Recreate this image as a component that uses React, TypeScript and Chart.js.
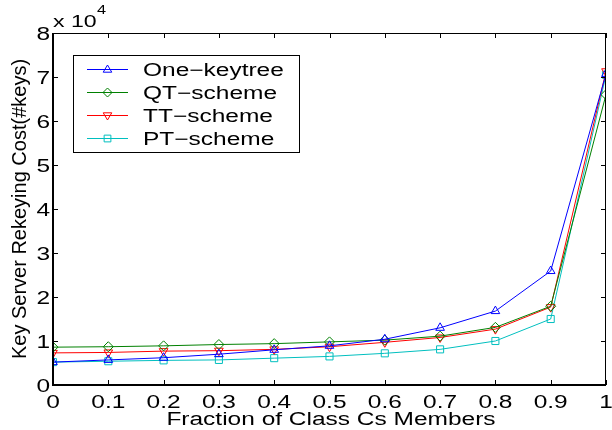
import React, { useEffect, useRef } from "react";
import { Chart, registerables } from "chart.js";

Chart.register(...registerables);

const fractions = [0, 0.1, 0.2, 0.3, 0.4, 0.5, 0.6, 0.7, 0.8, 0.9, 1.0];
const oneKeytree = [5200, 5700, 6200, 7000, 8000, 8900, 10400, 13000, 16800, 25900, 70700];
const qtScheme = [8600, 8700, 8900, 9200, 9400, 9800, 10200, 11100, 13100, 17900, 66000];
const ttScheme = [7300, 7400, 7700, 7800, 8100, 8700, 9700, 10800, 12700, 17700, 71300];
const ptScheme = [5200, 5400, 5600, 5700, 6100, 6500, 7200, 8100, 10000, 15000, 70500];
const xTicks = [0, 0.1, 0.2, 0.3, 0.4, 0.5, 0.6, 0.7, 0.8, 0.9, 1];
const yTicks = [0, 10000, 20000, 30000, 40000, 50000, 60000, 70000, 80000];
const xTitle = "Fraction of Class Cs Members";
const yTitle = "Key Server Rekeying Cost(#keys)";

const FONT = "'Liberation Sans', Arial, Helvetica, sans-serif";
const SX = 1.36;

const seriesDefs = [
  { label: "One\u2212keytree", data: oneKeytree, color: "#0000ff", style: "triangle", rot: 0 },
  { label: "QT\u2212scheme", data: qtScheme, color: "#008000", style: "rectRot", rot: 0 },
  { label: "TT\u2212scheme", data: ttScheme, color: "#ff0000", style: "triangle", rot: 180 },
  { label: "PT\u2212scheme", data: ptScheme, color: "#00bfbf", style: "rect", rot: 0 },
];

function drawMarker(ctx: CanvasRenderingContext2D, style: string, rot: number, x: number, y: number, r: number) {
  ctx.beginPath();
  if (style === "triangle") {
    const d = rot === 180 ? -1 : 1;
    ctx.moveTo(x, y - d * r);
    ctx.lineTo(x + r * 0.95, y + d * r * 0.6);
    ctx.lineTo(x - r * 0.95, y + d * r * 0.6);
    ctx.closePath();
  } else if (style === "rectRot") {
    ctx.moveTo(x, y - r);
    ctx.lineTo(x + r, y);
    ctx.lineTo(x, y + r);
    ctx.lineTo(x - r, y);
    ctx.closePath();
  } else {
    const s = r * 0.75;
    ctx.rect(x - s, y - s, 2 * s, 2 * s);
  }
  ctx.stroke();
}

function stretchedText(
  ctx: CanvasRenderingContext2D,
  text: string,
  x: number,
  y: number,
  align: CanvasTextAlign,
  size: number
) {
  ctx.save();
  ctx.translate(x, y);
  ctx.scale(SX, 1);
  ctx.font = `${size}px ${FONT}`;
  ctx.textAlign = align;
  ctx.textBaseline = "alphabetic";
  ctx.fillStyle = "#000";
  ctx.fillText(text, 0, 0);
  ctx.restore();
}

const framePlugin = {
  id: "frame",
  afterDraw(chart: any) {
    const { ctx, chartArea: a, scales } = chart;
    ctx.save();
    ctx.strokeStyle = "#000";
    ctx.lineWidth = 1;
    ctx.strokeRect(a.left + 0.5, a.top + 0.5, a.right - a.left - 1, a.bottom - a.top - 1);
    ctx.lineWidth = 2;
    ctx.beginPath();
    ctx.moveTo(a.left, a.top);
    ctx.lineTo(a.left, a.bottom);
    ctx.lineTo(a.right, a.bottom);
    ctx.stroke();
    ctx.lineWidth = 1;
    const tl = 5;
    ctx.beginPath();
    xTicks.forEach((t) => {
      const x = Math.round(scales.x.getPixelForValue(t)) + 0.5;
      ctx.moveTo(x, a.bottom);
      ctx.lineTo(x, a.bottom - tl);
      ctx.moveTo(x, a.top);
      ctx.lineTo(x, a.top + tl);
    });
    yTicks.forEach((t) => {
      const y = Math.round(scales.y.getPixelForValue(t)) + 0.5;
      ctx.moveTo(a.left, y);
      ctx.lineTo(a.left + tl, y);
      ctx.moveTo(a.right, y);
      ctx.lineTo(a.right - tl, y);
    });
    ctx.stroke();

    // tick labels
    xTicks.forEach((t) => {
      const x = scales.x.getPixelForValue(t);
      stretchedText(ctx, String(t), x, 408, "center", 18);
    });
    yTicks.forEach((t) => {
      const y = scales.y.getPixelForValue(t);
      stretchedText(ctx, String(t / 10000), 50, y + 6.5, "right", 18);
    });

    // axis titles
    stretchedText(ctx, xTitle, 331, 425, "center", 18);
    ctx.save();
    ctx.translate(26, 209);
    ctx.rotate(-Math.PI / 2);
    ctx.scale(1, 1.05);
    ctx.font = `20px ${FONT}`;
    ctx.textAlign = "center";
    ctx.textBaseline = "alphabetic";
    ctx.fillStyle = "#000";
    ctx.fillText(yTitle, 0, 0);
    ctx.restore();

    // exponent label
    stretchedText(ctx, "x 10", 53, 27, "left", 17);
    stretchedText(ctx, "4", 97, 14, "left", 12);

    // legend
    const lx = 73, ly = 55, lw = 226, lh = 97;
    ctx.fillStyle = "#fff";
    ctx.fillRect(lx, ly, lw, lh);
    ctx.strokeStyle = "#000";
    ctx.lineWidth = 1;
    ctx.strokeRect(lx + 0.5, ly + 0.5, lw, lh);
    seriesDefs.forEach((s, i) => {
      const y = 69 + i * 23;
      ctx.strokeStyle = s.color;
      ctx.lineWidth = 1;
      ctx.beginPath();
      ctx.moveTo(87, y + 0.5);
      ctx.lineTo(128, y + 0.5);
      ctx.stroke();
      drawMarker(ctx, s.style, s.rot, 107.5, y + 0.5, 4.5);
      stretchedText(ctx, s.label, 143, y + 6.5, "left", 18);
    });
    ctx.restore();
  },
};

export default function App() {
  const ref = useRef<HTMLCanvasElement | null>(null);
  useEffect(() => {
    if (!ref.current) return;
    const chart = new Chart(ref.current, {
      type: "line",
      data: {
        datasets: seriesDefs.map((s) => ({
          label: s.label,
          data: s.data.map((v, i) => ({ x: fractions[i], y: v })),
          borderColor: s.color,
          backgroundColor: "transparent",
          borderWidth: 1,
          pointStyle: s.style as any,
          pointRotation: s.rot,
          pointRadius: 5,
          pointBorderWidth: 1,
          pointBorderColor: s.color,
          pointBackgroundColor: "transparent",
          tension: 0,
        })),
      },
      options: {
        animation: false,
        responsive: false,
        layout: { padding: { top: 33, right: 4, left: 0, bottom: 0 } },
        plugins: { legend: { display: false }, tooltip: { enabled: false } },
        scales: {
          x: {
            type: "linear",
            min: 0,
            max: 1,
            afterBuildTicks: (axis: any) => {
              axis.ticks = xTicks.map((v) => ({ value: v }));
            },
            afterFit: (axis: any) => {
              axis.height = 45;
            },
            grid: { display: false },
            border: { display: false },
            ticks: { display: false },
          },
          y: {
            type: "linear",
            min: 0,
            max: 80000,
            afterBuildTicks: (axis: any) => {
              axis.ticks = yTicks.map((v) => ({ value: v }));
            },
            afterFit: (axis: any) => {
              axis.width = 53;
            },
            grid: { display: false },
            border: { display: false },
            ticks: { display: false },
          },
        },
      },
      plugins: [framePlugin],
    });
    return () => chart.destroy();
  }, []);
  return (
    <div style={{ position: "absolute", left: 0, top: 0, width: 612, height: 430, background: "#fff" }}>
      <canvas ref={ref} width={612} height={430} style={{ width: 612, height: 430 }} />
    </div>
  );
}
